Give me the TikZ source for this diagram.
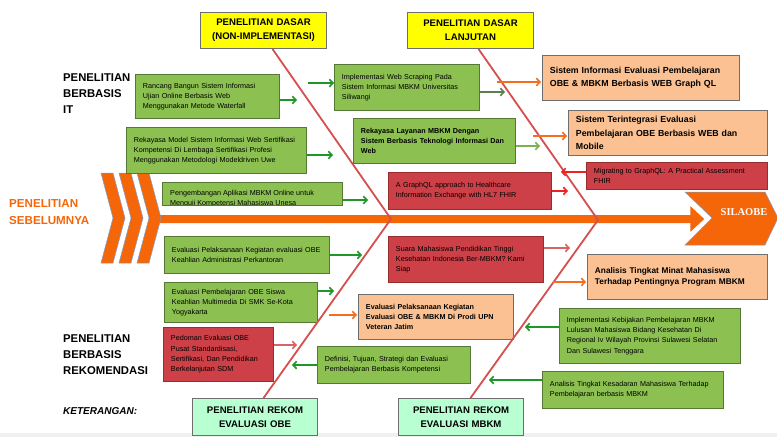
\documentclass[tikz,border=0pt]{standalone}
\usepackage{fontspec}
\setmainfont{Liberation Sans}
\newfontfamily\hurufserif{Liberation Serif}
\usepackage{tikz}
\usetikzlibrary{arrows.meta}
\newcommand{\autofontsize}[2]{\fontsize{#1}{#2}\selectfont}
\newcommand{\kotakteks}[6]{\pgfmathsetmacro{\lebarteks}{#4-15}%
\node[kotak,#1,minimum width=#4pt,minimum height=#5pt,text width=\lebarteks pt] (#2) at (#3) {#6};}
\definecolor{oranyemmi}{RGB}{244,102,8}
\definecolor{oranyepanah}{RGB}{245,110,30}
\definecolor{birumuda}{RGB}{120,160,210}
\definecolor{merahtulang}{RGB}{214,78,78}
\definecolor{hijaukotak}{RGB}{140,193,82}
\definecolor{hijaubord}{RGB}{85,120,55}
\definecolor{hijaupanah}{RGB}{30,150,40}
\definecolor{hijautua}{RGB}{95,125,80}
\definecolor{hijaumuda}{RGB}{120,180,80}
\definecolor{merahkotak}{RGB}{206,64,72}
\definecolor{merahbord}{RGB}{150,45,45}
\definecolor{merahpanah}{RGB}{235,35,35}
\definecolor{merahmuda}{RGB}{215,100,100}
\definecolor{persikkotak}{RGB}{251,193,146}
\definecolor{abubord}{RGB}{110,110,110}
\definecolor{kuningmmi}{RGB}{255,255,0}
\definecolor{mintmmi}{RGB}{184,255,210}
\definecolor{abutipis}{RGB}{240,240,240}
\tikzstyle{kotak}=[draw,line width=0.9pt,anchor=north west,align=left,inner xsep=7.5pt,inner ysep=2pt,font=\autofontsize{7.2}{10.3}]
\tikzstyle{hijau}=[fill=hijaukotak,draw=hijaubord]
\tikzstyle{merah}=[fill=merahkotak,draw=merahbord]
\tikzstyle{persik}=[fill=persikkotak,draw=abubord,font=\bfseries\autofontsize{8.8}{13.5}]
\tikzstyle{tebal}=[font=\bfseries\autofontsize{7.2}{10}]
\tikzstyle{judul}=[draw=abubord,line width=1pt,align=center,font=\bfseries\autofontsize{9.6}{14}]
\tikzstyle{judulkiri}=[anchor=north west,inner sep=0pt,align=left,font=\bfseries\autofontsize{11.3}{16}]
\tikzstyle{tulang}=[merahtulang,line width=1.8pt]
\tikzstyle{panah}=[->,line width=1.6pt]
\tikzset{>={Straight Barb[length=3.5pt,width=7.5pt]}}

\begin{document}
\begin{tikzpicture}[x=1pt,y=-1pt]
\useasboundingbox (0,0) rectangle (777,437);
\fill[abutipis] (0,433) rectangle (777,437);

\fill[oranyemmi] (157,215) -- (690,215) -- (690,205) -- (705,219) -- (690,233) -- (690,223) -- (157,223) -- cycle;
\draw[white,line width=0.8pt] (690,215) -- (690,205) -- (705,219) -- (690,233) -- (690,223);

\foreach \x in {101,119,137}
\filldraw[fill=oranyemmi,draw=birumuda,line width=0.5pt] (\x,173) -- +(12,0) -- +(24,45) -- +(12,90) -- +(0,90) -- +(12,45) -- cycle;

\filldraw[fill=oranyemmi,draw=birumuda,line width=0.5pt] (685,192) -- (765,192) -- (778,218) -- (765,245) -- (685,245) -- (712,218) -- cycle;
\node[text=white,font=\hurufserif\bfseries\autofontsize{10.5}{12}] (silaobe) at (744,212) {SILAOBE};

\node[judulkiri,text=oranyemmi,font=\bfseries\autofontsize{11.6}{17}] (sebelumnya) at (9,199) {PENELITIAN\\SEBELUMNYA};
\node[judulkiri] (berbasisit) at (63,74) {PENELITIAN\\BERBASIS\\IT};
\node[judulkiri] (berbasisrekom) at (63,335) {PENELITIAN\\BERBASIS\\REKOMENDASI};
\node[judulkiri,font=\bfseries\itshape\autofontsize{10}{12}] (keterangan) at (63,407) {KETERANGAN:};

\kotakteks{judul,fill=kuningmmi}{y1}{200,12}{126}{36}{PENELITIAN DASAR\\(NON-IMPLEMENTASI)}
\kotakteks{judul,fill=kuningmmi}{y2}{407,12}{126}{36}{PENELITIAN DASAR\\LANJUTAN}
\kotakteks{judul,fill=mintmmi}{m1}{192,398}{125}{37}{PENELITIAN REKOM\\EVALUASI OBE}
\kotakteks{judul,fill=mintmmi}{m2}{398,398}{125}{37}{PENELITIAN REKOM\\EVALUASI MBKM}

\kotakteks{hijau}{g1}{135,74}{144}{44}{Rancang Bangun Sistem Informasi\\Ujian Online Berbasis Web\\Menggunakan Metode Waterfall}
\kotakteks{hijau}{g2}{334,64}{145}{46}{Implementasi Web Scraping Pada\\Sistem Informasi MBKM Universitas\\Siliwangi}
\kotakteks{hijau}{g3}{126,127}{180}{46}{Rekayasa Model Sistem Informasi Web Sertifikasi\\Kompetensi Di Lembaga Sertifikasi Profesi\\Menggunakan Metodologi Modeldriven Uwe}
\kotakteks{hijau,tebal}{g4}{353,118}{162}{45}{Rekayasa Layanan MBKM Dengan\\Sistem Berbasis Teknologi Informasi Dan\\Web}
\kotakteks{hijau}{g6}{164,236}{165}{37}{Evaluasi Pelaksanaan Kegiatan evaluasi OBE\\Keahlian Administrasi Perkantoran}
\kotakteks{hijau}{g7}{164,282}{153}{40}{Evaluasi Pembelajaran OBE Siswa\\Keahlian Multimedia Di SMK Se-Kota\\Yogyakarta}
\kotakteks{hijau}{g8}{317,346}{153}{37}{Definisi, Tujuan, Strategi dan Evaluasi\\Pembelajaran Berbasis Kompetensi}
\kotakteks{hijau}{g9}{559,308}{181}{55}{Implementasi Kebijakan Pembelajaran MBKM\\Lulusan Mahasiswa Bidang Kesehatan Di\\Regional Iv Wilayah Provinsi Sulawesi Selatan\\Dan Sulawesi Tenggara}
\kotakteks{hijau}{g10}{542,371}{181}{37}{Analisis Tingkat Kesadaran Mahasiswa Terhadap\\Pembelajaran berbasis MBKM}

\node[kotak,hijau,minimum width=180pt,minimum height=23pt] (g5) at (162,182) {};
\begin{scope}
\clip ([xshift=1pt,yshift=1pt]g5.south west) rectangle ([xshift=-1pt,yshift=-1pt]g5.north east);
\node[anchor=north west,inner sep=0pt,align=left,font=\autofontsize{7.2}{10.3}] (g5teks) at (170,189.7) {Pengembangan Aplikasi MBKM Online untuk\\Menguji Kompetensi Mahasiswa Unesa};
\end{scope}

\kotakteks{merah}{r1}{163,327}{110}{54}{Pedoman Evaluasi OBE\\Pusat Standardisasi,\\Sertifikasi, Dan Pendidikan\\Berkelanjutan SDM}
\kotakteks{merah}{r2}{388,172}{163}{37}{A GraphQL approach to Healthcare\\Information Exchange with HL7 FHIR}
\kotakteks{merah}{r3}{388,236}{155}{46}{Suara Mahasiswa Pendidikan Tinggi\\Kesehatan Indonesia Ber-MBKM? Kami\\Siap}
\kotakteks{merah}{r4}{586,162}{181}{27}{Migrating to GraphQL: A Practical Assessment\\FHIR}

\kotakteks{persik,tebal}{o1}{358,294}{155}{45}{Evaluasi Pelaksanaan Kegiatan\\Evaluasi OBE \& MBKM Di Prodi UPN\\Veteran Jatim}
\kotakteks{persik}{o2}{542,55}{197}{45}{Sistem Informasi Evaluasi Pembelajaran\\OBE \& MBKM Berbasis WEB Graph QL}
\kotakteks{persik}{o3}{568,110}{199}{45}{Sistem Terintegrasi Evaluasi\\Pembelajaran OBE Berbasis WEB dan\\Mobile}
\kotakteks{persik,font=\bfseries\autofontsize{8.3}{11.5}}{o4}{587,254}{180}{45}{Analisis Tingkat Minat Mahasiswa\\Terhadap Pentingnya Program MBKM}

\coordinate (kepala1) at (391,219);
\coordinate (kepala2) at (598,220);
\draw[tulang] ([xshift=9pt]y1.south) -- (kepala1) -- ([xshift=8.5pt]m1.north);
\draw[tulang] ([xshift=8pt]y2.south) -- (kepala2) -- ([xshift=9.5pt]m2.north);

\foreach \n/\x/\y in {g1/297/100,g3/333/155,g5/368/200,g6/362/255,g7/334/291}
{\coordinate (\n-ujung) at (\x,\y);
\draw[panah,hijaupanah] (\n.east |- \n-ujung) -- (\n-ujung);}

\foreach \n/\x/\y in {g8/292/365,g9/525/327,g10/489/380}
{\coordinate (\n-ujung) at (\x,\y);
\draw[panah,hijaupanah] (\n.west |- \n-ujung) -- (\n-ujung);}

\coordinate (g2-pangkal) at (308,83);
\draw[panah,hijaupanah] (g2-pangkal) -- (g2.west |- g2-pangkal);
\coordinate (g2-ujung) at (505,92);
\draw[panah,hijautua] (g2.east |- g2-ujung) -- (g2-ujung);
\coordinate (g4-ujung) at (540,146);
\draw[panah,hijaumuda] (g4.east |- g4-ujung) -- (g4-ujung);

\coordinate (r1-ujung) at (297,345);
\draw[panah,merahmuda] (r1.east |- r1-ujung) -- (r1-ujung);
\coordinate (r2-ujung) at (568,191);
\draw[panah,merahpanah] (r2.east |- r2-ujung) -- (r2-ujung);
\coordinate (r3-ujung) at (570,248);
\draw[panah,merahmuda] (r3.east |- r3-ujung) -- (r3-ujung);
\coordinate (r4-ujung) at (561,172);
\draw[panah,merahpanah] (r4.west |- r4-ujung) -- (r4-ujung);

\foreach \n/\x/\y in {o1/329/315,o2/497/82,o3/533/136,o4/553/282}
{\coordinate (\n-pangkal) at (\x,\y);
\draw[panah,oranyepanah,shorten >=1pt] (\n-pangkal) -- (\n.west |- \n-pangkal);}

\end{tikzpicture}
\end{document}
